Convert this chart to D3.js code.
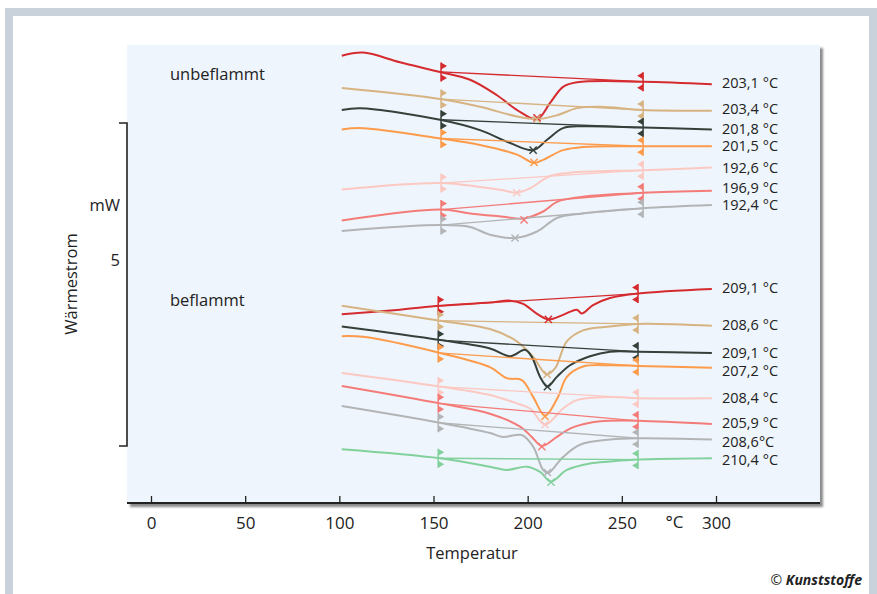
<!DOCTYPE html>
<html><head><meta charset="utf-8">
<script src="https://cdn.jsdelivr.net/npm/d3@7"></script>
<style>body{margin:0;background:#fff}svg{display:block}</style>
</head><body><svg id="chart" width="877" height="594"></svg>
<script>
// ---------- DATA (temperature °C, heat flow mW) ----------
const xTicks = [0, 50, 100, 150, 200, 250, 300];

// unbeflammt
const u1 = [[101.3,6.04],[112.6,6.09],[132.2,5.94],[153.5,5.79],[169.4,5.67],[183.7,5.43],[194.4,5.20],[205.0,5.06],[211.9,5.31],[218.8,5.56],[226.2,5.63],[261.3,5.64],[297.8,5.60]];
const u2 = [[101.3,5.54],[153.5,5.37],[174.7,5.25],[194.4,5.10],[205.0,5.06],[215.6,5.12],[226.2,5.23],[238.5,5.25],[261.3,5.20],[297.8,5.19]];
const u3 = [[101.3,5.20],[111.0,5.23],[153.5,5.05],[174.7,4.89],[190.7,4.69],[202.9,4.58],[210.3,4.74],[218.8,4.92],[229.4,4.95],[261.3,4.93],[297.8,4.90]];
const u4 = [[101.3,4.90],[112.6,4.92],[153.5,4.76],[174.7,4.66],[194.4,4.51],[203.4,4.38],[208.2,4.43],[218.8,4.58],[229.4,4.63],[261.3,4.64],[297.8,4.64]];
const u5 = [[101.3,3.97],[153.5,4.07],[174.7,4.01],[186.9,3.96],[194.2,3.92],[201.3,3.99],[211.9,4.18],[222.5,4.23],[261.3,4.27],[297.8,4.31]];
const u6 = [[101.3,3.49],[153.5,3.66],[169.4,3.60],[186.9,3.55],[197.6,3.52],[208.2,3.63],[215.6,3.78],[229.4,3.86],[261.3,3.92],[297.8,3.95]];
const u7 = [[101.3,3.33],[153.5,3.42],[169.4,3.39],[180.0,3.27],[193.3,3.22],[205.0,3.32],[215.6,3.53],[229.4,3.60],[261.3,3.68],[297.8,3.73]];
const unLabels = ["203,1 °C","203,4 °C","201,8 °C","201,5 °C","192,6 °C","196,9 °C","192,4 °C"];
const unPeakT = [205.0,204.8,202.9,203.4,194.2,198.1,193.3];
const unPeakW = [5.08,5.06,4.58,4.39,3.92,3.50,3.22];
const unBaseT = [154, 261.3];
const unBaseStart = [5.79,5.37,5.05,4.76,4.07,3.66,3.42];
const unBaseEnd = [5.64,5.20,4.93,4.64,4.27,3.92,3.68];

// beflammt
const b1 = [[101.3,2.04],[132.2,2.11],[153.5,2.17],[180.0,2.22],[190.7,2.25],[197.6,2.20],[204.8,2.05],[211.0,1.96],[218.8,2.03],[226.1,2.11],[228.7,2.05],[234.7,2.18],[243.7,2.29],[258.6,2.36],[297.8,2.43]];
const b2 = [[101.3,2.17],[153.5,1.94],[180.0,1.81],[194.2,1.62],[202.9,1.38],[210.0,1.11],[214.5,1.20],[220.8,1.62],[229.4,1.79],[243.7,1.85],[258.6,1.89],[297.8,1.86]];
const b3 = [[101.3,1.85],[132.2,1.73],[153.5,1.64],[180.0,1.51],[190.7,1.39],[198.6,1.49],[202.2,1.38],[206.6,1.07],[210.5,0.92],[215.5,1.07],[222.5,1.25],[233.1,1.39],[243.7,1.46],[258.6,1.46],[297.8,1.44]];
const b4 = [[101.3,1.70],[112.6,1.69],[153.5,1.44],[180.0,1.22],[188.9,1.05],[196.9,1.02],[202.9,0.76],[209.2,0.47],[216.1,0.76],[220.8,1.07],[229.4,1.23],[243.7,1.25],[258.6,1.24],[297.8,1.21]];
const b5 = [[101.3,1.13],[153.5,0.92],[180.0,0.79],[194.2,0.66],[201.3,0.58],[209.2,0.33],[218.8,0.58],[226.1,0.71],[243.7,0.76],[258.6,0.74],[297.8,0.74]];
const b6 = [[101.3,0.93],[153.5,0.66],[180.0,0.50],[196.0,0.30],[202.2,0.14],[207.5,0.00],[215.5,0.14],[222.5,0.27],[233.1,0.36],[243.7,0.39],[258.6,0.39],[297.8,0.34]];
const b7 = [[101.3,0.62],[153.5,0.36],[180.0,0.20],[186.9,0.14],[196.9,0.17],[202.9,-0.01],[208.2,-0.37],[210.8,-0.42],[218.8,-0.17],[227.8,0.02],[243.7,0.10],[258.6,0.12],[297.8,0.10]];
const b8 = [[101.3,-0.05],[153.5,-0.19],[180.0,-0.32],[188.9,-0.37],[199.5,-0.32],[206.6,-0.40],[212.4,-0.55],[220.8,-0.37],[233.1,-0.27],[243.7,-0.24],[258.6,-0.21],[297.8,-0.19]];
const beLabels = ["209,1 °C","208,6 °C","209,1 °C","207,2 °C","208,4 °C","205,9 °C","208,6°C","210,4 °C"];
const bePeakT = [211.0,210.3,210.5,209.2,209.2,207.5,210.5,212.4];
const bePeakW = [1.96,1.11,0.92,0.46,0.33,-0.01,-0.41,-0.56];
const beBaseT = [152.5, 258.6];
const beBaseStart = [2.17,1.94,1.64,1.44,0.92,0.66,0.36,-0.19];
const beBaseEnd = [2.36,1.89,1.46,1.24,0.74,0.39,0.12,-0.21];

// ---------- STYLE ----------
const unColors = ["#d52b2e","#d7b382","#35403a","#fd9b4b","#fcc8c2","#f47c78","#b3b4b6"];
const beColors = ["#d52b2e","#d7b382","#35403a","#fd9b4b","#fcc8c2","#f47c78","#b3b4b6","#82d09c"];
const unLabelNudge = [-1,-2,-1,0,0,-3,0];   // px, to keep labels apart
const beLabelNudge = [-1,-1,-0.5,3,0,-1,2,2];
const FONT = "'Open Sans','Noto Sans',sans-serif";
const NARROW = "'Liberation Sans Narrow','Open Sans',sans-serif";

const svg = d3.select("#chart");
const defs = svg.append("defs");
defs.append("filter").attr("id","sh").attr("x","-5%").attr("y","-5%").attr("width","110%").attr("height","110%")
  .append("feGaussianBlur").attr("stdDeviation",1.3);

// frame
svg.append("rect").attr("x",5).attr("y",8).attr("width",872).attr("height",586).attr("fill","#c9d1da");
svg.append("rect").attr("x",13).attr("y",16).attr("width",856).attr("height",578).attr("fill","#ffffff");

// panel
const P = {l:127, t:45, r:820, b:503};
svg.append("rect").attr("x",P.l+3).attr("y",P.t+3).attr("width",P.r-P.l).attr("height",P.b-P.t+1)
  .attr("fill","#8a8a8a").attr("filter","url(#sh)");
svg.append("rect").attr("x",P.l).attr("y",P.t).attr("width",P.r-P.l).attr("height",P.b-P.t)
  .attr("fill","#eef5fc");

// scales
const x = d3.scaleLinear().domain([0,300]).range([151,716]);
const y = d3.scaleLinear().domain([0,5]).range([446,123]);

// x axis
const ax = svg.append("g").attr("transform",`translate(0,${P.b})`)
  .call(d3.axisBottom(x).tickValues(xTicks).tickSize(-7).tickPadding(14).tickFormat(d3.format("d")));
ax.select(".domain").remove();
ax.selectAll(".tick line").attr("stroke","#222").attr("stroke-width",1.3);
ax.selectAll(".tick text").attr("font-family",NARROW).attr("font-size",17).attr("fill","#222");
svg.append("line").attr("x1",P.l).attr("x2",P.r).attr("y1",P.b).attr("y2",P.b)
  .attr("stroke","#222").attr("stroke-width",2.2);
svg.append("text").attr("x",x(278)).attr("y",P.b+25).attr("text-anchor","middle")
  .attr("font-family",NARROW).attr("font-size",17).attr("fill","#222").text("°C");
svg.append("text").attr("x",472).attr("y",559).attr("text-anchor","middle")
  .attr("font-family",FONT).attr("font-size",16.5).attr("fill","#222").text("Temperatur");

// y scale bracket
svg.append("path").attr("d",`M${P.l-8},${y(5)}H${P.l}V${y(0)}H${P.l-8}`)
  .attr("fill","none").attr("stroke","#222").attr("stroke-width",1.6);
svg.append("text").attr("x",120).attr("y",211).attr("text-anchor","end")
  .attr("font-family",FONT).attr("font-size",16.5).attr("fill","#222").text("mW");
svg.append("text").attr("x",120).attr("y",266).attr("text-anchor","end")
  .attr("font-family",FONT).attr("font-size",16.5).attr("fill","#222").text("5");
svg.append("text").attr("transform","translate(77,284) rotate(-90)").attr("text-anchor","middle")
  .attr("font-family",FONT).attr("font-size",16.5).attr("fill","#222").text("Wärmestrom");

// group titles
svg.append("text").attr("x",170).attr("y",80).attr("font-family",FONT).attr("font-size",16.5)
  .attr("fill","#222").text("unbeflammt");
svg.append("text").attr("x",170).attr("y",306).attr("font-family",FONT).attr("font-size",16.5)
  .attr("fill","#222").text("beflammt");

const line = d3.line().x(d=>x(d[0])).y(d=>y(d[1])).curve(d3.curveCatmullRom.alpha(0.5));

function drawGroup(curves, colors, labels, nudge, peakT, peakW, baseT, baseStart, baseEnd){
  const g = svg.append("g");
  curves.forEach((c,i)=>{
    g.append("line").attr("x1",x(baseT[0])).attr("y1",y(baseStart[i]))
      .attr("x2",x(baseT[1])).attr("y2",y(baseEnd[i]))
      .attr("stroke",colors[i]).attr("stroke-width",1.3);
    g.append("path").attr("d",line(c)).attr("fill","none")
      .attr("stroke",colors[i]).attr("stroke-width",2);
  });
  curves.forEach((c,i)=>{
    [[baseT[0],baseStart[i],1],[baseT[1],baseEnd[i],-1]].forEach(([t,w,dir])=>{
      const px = x(t), py = y(w), h = 9.5;
      g.append("line").attr("x1",px).attr("x2",px).attr("y1",py-h).attr("y2",py+h)
        .attr("stroke",colors[i]).attr("stroke-width",1.5);
      g.append("path").attr("d",`M${px},${py-h}L${px+dir*6},${py-h+3.5}L${px},${py-h+7}Z M${px},${py+h-7}L${px+dir*6},${py+h-3.5}L${px},${py+h}Z`)
        .attr("fill",colors[i]);
    });
    g.append("path").attr("transform",`translate(${x(peakT[i])},${y(peakW[i])})`)
      .attr("d","M-3.6,-3.6L3.6,3.6M-3.6,3.6L3.6,-3.6")
      .attr("stroke",colors[i]).attr("stroke-width",1.4).attr("fill","none");
    const last = c[c.length-1];
    g.append("text").attr("x",722).attr("y",y(last[1])+nudge[i]).attr("dy","0.35em")
      .attr("font-family",FONT).attr("font-size",14.5).attr("fill","#222").text(labels[i]);
  });
}

drawGroup([u1,u2,u3,u4,u5,u6,u7], unColors, unLabels, unLabelNudge, unPeakT, unPeakW, unBaseT, unBaseStart, unBaseEnd);
drawGroup([b1,b2,b3,b4,b5,b6,b7,b8], beColors, beLabels, beLabelNudge, bePeakT, bePeakW, beBaseT, beBaseStart, beBaseEnd);

// copyright
const cp = svg.append("text").attr("x",862).attr("y",585).attr("text-anchor","end")
  .attr("font-family",NARROW).attr("font-size",14).attr("fill","#222");
cp.append("tspan").text("©  ");
cp.append("tspan").attr("font-weight","bold").attr("font-style","italic").text("Kunststoffe");
</script></body></html>
